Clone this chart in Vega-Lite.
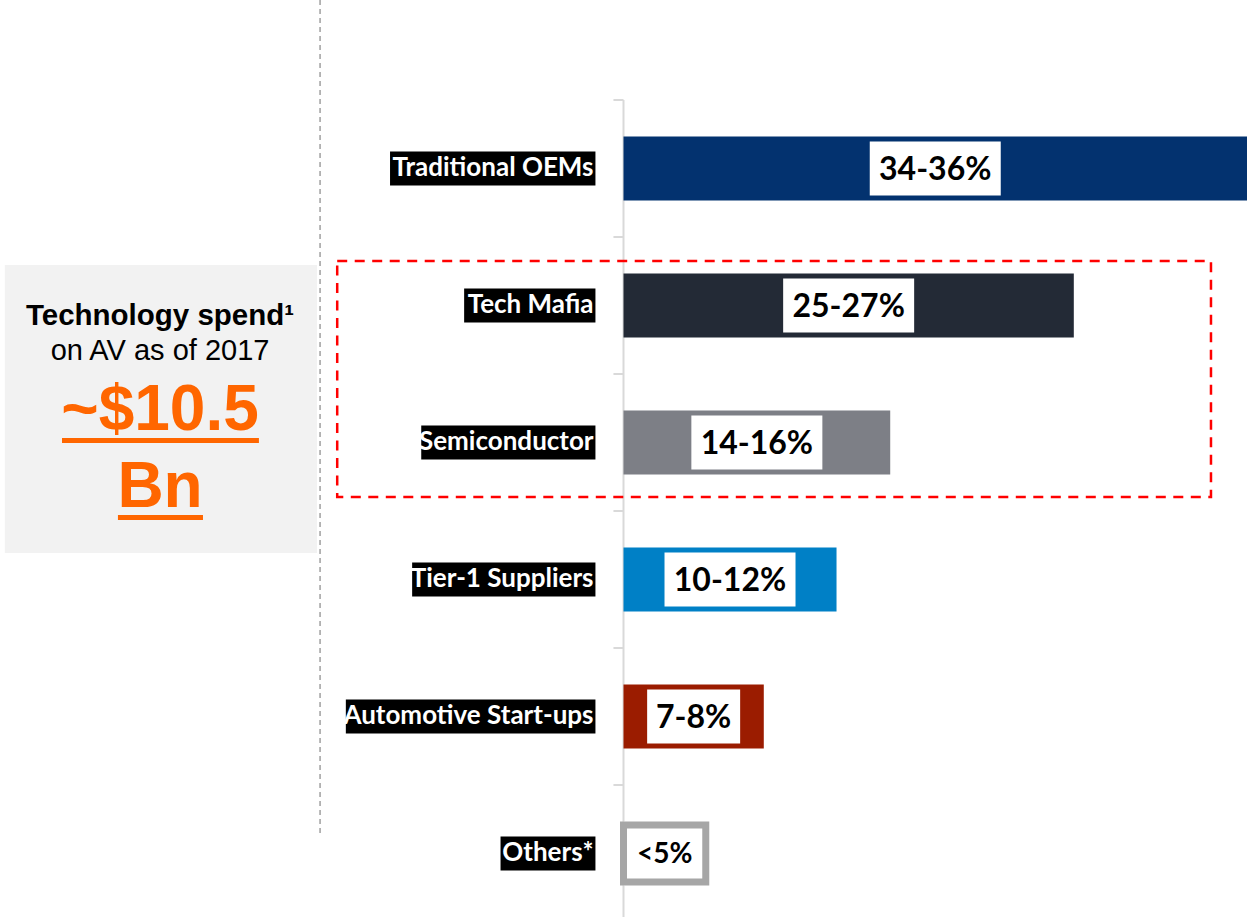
{
  "$schema": "https://vega.github.io/schema/vega-lite/v6.json",
  "width": 1247,
  "height": 922,
  "padding": 0,
  "autosize": "none",
  "background": "#ffffff",
  "config": {"view": {"stroke": null}, "axis": {"disable": true}, "legend": {"disable": true}},
  "datasets": {
    "cats": [
      {"name": "Traditional OEMs", "value": 36, "label": "34-36%"},
      {"name": "Tech Mafia", "value": 26, "label": "25-27%"},
      {"name": "Semiconductor", "value": 15.4, "label": "14-16%"},
      {"name": "Tier-1 Suppliers", "value": 12.3, "label": "10-12%"},
      {"name": "Automotive Start-ups", "value": 8.1, "label": "7-8%"},
      {"name": "Others*", "value": 4.75, "label": "<5%"}
    ]
  },
  "layer": [
    {
      "data": {"values": [{}]},
      "mark": {"type": "rect", "color": "#f2f2f2"},
      "encoding": {
        "x": {"datum": -35.72, "type": "quantitative", "scale": {"domain": [-36, 36], "nice": false, "zero": false}},
        "x2": {"datum": -17.7},
        "y": {"datum": "Tech Mafia", "type": "nominal", "bandPosition": 0.204, "scale": {"domain": ["Traditional OEMs", "Tech Mafia", "Semiconductor", "Tier-1 Suppliers", "Automotive Start-ups", "Others*"], "paddingInner": 0, "paddingOuter": 0.365, "align": 1}},
        "y2": {"datum": "Tier-1 Suppliers", "bandPosition": 0.307}
      }
    },
    {
      "data": {"values": [{}]},
      "mark": {"type": "rule", "color": "#a0a0a0", "strokeWidth": 1.5, "strokeDash": [5, 4]},
      "encoding": {
        "x": {"datum": -17.52, "type": "quantitative"},
        "y": {"datum": "Traditional OEMs", "type": "nominal", "bandPosition": -0.73},
        "y2": {"datum": "Others*", "bandPosition": 0.38}
      }
    },
    {
      "data": {"values": [{}]},
      "mark": {"type": "rule", "color": "#d9d9d9", "strokeWidth": 2},
      "encoding": {
        "x": {"datum": 0, "type": "quantitative"},
        "y": {"datum": "Traditional OEMs", "type": "nominal", "bandPosition": 0},
        "y2": {"datum": "Others*", "bandPosition": 1}
      }
    },
    {
      "data": {"name": "cats"},
      "mark": {"type": "rule", "color": "#d9d9d9", "strokeWidth": 2},
      "encoding": {
        "x": {"datum": -0.58, "type": "quantitative"},
        "x2": {"datum": 0},
        "y": {"field": "name", "type": "nominal", "bandPosition": 0}
      }
    },
    {
      "data": {"name": "cats"},
      "mark": {"type": "bar", "height": {"band": 0.467}},
      "encoding": {
        "x": {"field": "value", "type": "quantitative"},
        "x2": {"datum": 0},
        "y": {"field": "name", "type": "nominal"},
        "color": {"field": "name", "type": "nominal", "scale": {"domain": ["Traditional OEMs", "Tech Mafia", "Semiconductor", "Tier-1 Suppliers", "Automotive Start-ups", "Others*"], "range": ["#03326f", "#232a36", "#7d7f86", "#0080c6", "#9b1c00", "#ffffff"]}}
      }
    },
    {
      "data": {"name": "cats"},
      "transform": [{"filter": "datum.name === 'Others*'"}],
      "mark": {"type": "bar", "fill": "#ffffff", "stroke": "#a6a6a6", "strokeWidth": 7, "height": {"band": 0.416}},
      "encoding": {
        "x": {"field": "value", "type": "quantitative"},
        "x2": {"datum": 0},
        "y": {"field": "name", "type": "nominal"}
      }
    },
    {
      "data": {"name": "cats"},
      "transform": [
        {"filter": "datum.name !== 'Others*'"},
        {"calculate": "(19*length(datum.label)+17)/2/17.319", "as": "hw"},
        {"calculate": "datum.value/2 - datum.hw", "as": "bx"},
        {"calculate": "datum.value/2 + datum.hw", "as": "bx2"}
      ],
      "mark": {"type": "bar", "color": "#ffffff", "height": {"band": 0.394}},
      "encoding": {
        "x": {"field": "bx", "type": "quantitative"},
        "x2": {"field": "bx2"},
        "y": {"field": "name", "type": "nominal"}
      }
    },
    {
      "data": {"name": "cats"},
      "transform": [{"calculate": "datum.value/2", "as": "mid"}],
      "mark": {"type": "text", "font": "Lato", "fontWeight": "bold", "color": "#000000", "align": "center", "baseline": "middle", "dy": 1},
      "encoding": {
        "x": {"field": "mid", "type": "quantitative"},
        "y": {"field": "name", "type": "nominal"},
        "text": {"field": "label"},
        "size": {"condition": {"test": "datum.name === 'Others*'", "value": 28}, "value": 32}
      }
    },
    {
      "data": {"name": "cats"},
      "transform": [
        {"calculate": "26*(0.55*length(datum.name) - 0.25*length(replace(datum.name, /[^iltrf -]/g, '')) + 0.3*length(replace(datum.name, /[^MOmA]/g, '')))", "as": "lw"},
        {"calculate": "-1.62 - datum.lw/17.319", "as": "lx"}
      ],
      "mark": {"type": "bar", "color": "#000000", "height": {"band": 0.248}},
      "encoding": {
        "x": {"field": "lx", "type": "quantitative"},
        "x2": {"datum": -1.62},
        "y": {"field": "name", "type": "nominal"}
      }
    },
    {
      "data": {"name": "cats"},
      "mark": {"type": "text", "font": "Lato", "fontWeight": "bold", "fontSize": 26, "color": "#ffffff", "align": "right", "baseline": "middle", "dy": -1},
      "encoding": {
        "x": {"datum": -1.73, "type": "quantitative"},
        "y": {"field": "name", "type": "nominal"},
        "text": {"field": "name"}
      }
    },
    {
      "data": {"values": [{}]},
      "mark": {"type": "rect", "filled": false, "stroke": "#ff0000", "strokeWidth": 2.5, "strokeDash": [10, 7.5]},
      "encoding": {
        "x": {"datum": -16.53, "type": "quantitative"},
        "x2": {"datum": 33.92},
        "y": {"datum": "Tech Mafia", "type": "nominal", "bandPosition": 0.175},
        "y2": {"datum": "Semiconductor", "bandPosition": 0.898}
      }
    },
    {
      "data": {"values": [{}]},
      "mark": {"type": "text", "font": "Liberation Sans", "fontWeight": "bold", "fontSize": 29.5, "color": "#000000", "align": "center", "baseline": "alphabetic", "text": "Technology spend¹"},
      "encoding": {
        "x": {"datum": -26.76, "type": "quantitative"},
        "y": {"datum": "Tech Mafia", "type": "nominal", "bandPosition": 0.642}
      }
    },
    {
      "data": {"values": [{}]},
      "mark": {"type": "text", "font": "Liberation Sans", "fontSize": 29, "color": "#000000", "align": "center", "baseline": "alphabetic", "text": "on AV as of 2017"},
      "encoding": {
        "x": {"datum": -26.76, "type": "quantitative"},
        "y": {"datum": "Tech Mafia", "type": "nominal", "bandPosition": 0.898}
      }
    },
    {
      "data": {"values": [{}]},
      "mark": {"type": "text", "font": "Liberation Sans", "fontWeight": "bold", "fontSize": 64, "color": "#ff6600", "align": "center", "baseline": "alphabetic", "text": "~$10.5"},
      "encoding": {
        "x": {"datum": -26.76, "type": "quantitative"},
        "y": {"datum": "Semiconductor", "type": "nominal", "bandPosition": 0.409}
      }
    },
    {
      "data": {"values": [{}]},
      "mark": {"type": "text", "font": "Liberation Sans", "fontWeight": "bold", "fontSize": 64, "color": "#ff6600", "align": "center", "baseline": "alphabetic", "text": "Bn"},
      "encoding": {
        "x": {"datum": -26.76, "type": "quantitative"},
        "y": {"datum": "Semiconductor", "type": "nominal", "bandPosition": 0.971}
      }
    },
    {
      "data": {"values": [{}]},
      "mark": {"type": "rule", "color": "#ff6600", "strokeWidth": 5},
      "encoding": {
        "x": {"datum": -32.42, "type": "quantitative"},
        "x2": {"datum": -21.05},
        "y": {"datum": "Semiconductor", "type": "nominal", "bandPosition": 0.485}
      }
    },
    {
      "data": {"values": [{}]},
      "mark": {"type": "rule", "color": "#ff6600", "strokeWidth": 5},
      "encoding": {
        "x": {"datum": -29.19, "type": "quantitative"},
        "x2": {"datum": -24.28},
        "y": {"datum": "Tier-1 Suppliers", "type": "nominal", "bandPosition": 0.047}
      }
    }
  ]
}
